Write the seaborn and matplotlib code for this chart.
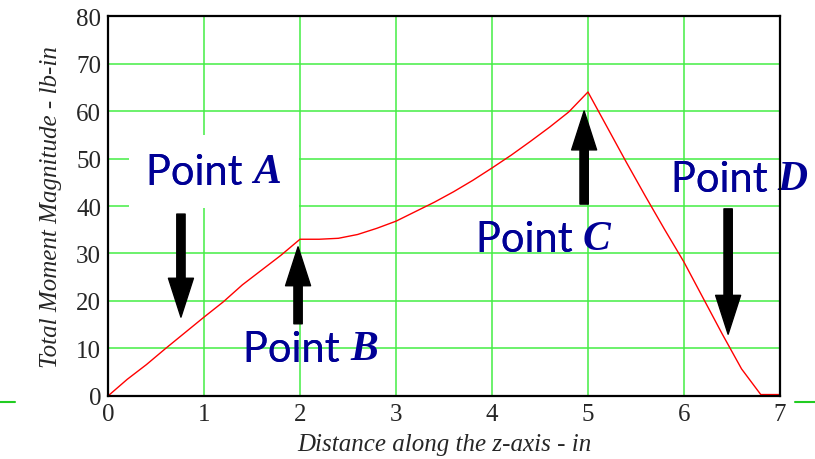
import matplotlib
matplotlib.use("Agg")
import matplotlib.pyplot as plt
from matplotlib.lines import Line2D
import numpy as np
import pandas as pd
import seaborn as sns

# Bending moment along the shaft (lb-in) sampled every 0.2 in
z_in = [0.0, 0.2, 0.4, 0.6, 0.8, 1.0, 1.2, 1.4, 1.6, 1.8, 2.0, 2.2, 2.4, 2.6, 2.8,
        3.0, 3.2, 3.4, 3.6, 3.8, 4.0, 4.2, 4.4, 4.6, 4.8, 5.0, 5.2, 5.4, 5.6, 5.8,
        6.0, 6.2, 6.4, 6.6, 6.8, 7.0]
moment = [0.0, 3.5, 6.6, 10.0, 13.3, 16.6, 19.8, 23.4, 26.5, 29.6, 33.0, 33.0, 33.2,
          34.0, 35.3, 36.8, 38.8, 40.8, 43.0, 45.4, 48.0, 50.7, 53.6, 56.6, 59.8, 64.0,
          56.6, 49.2, 42.0, 35.0, 28.2, 20.6, 13.0, 5.7, 0.3, 0.3]

x_ticks = [0, 1, 2, 3, 4, 5, 6, 7]
y_ticks = [0, 10, 20, 30, 40, 50, 60, 70, 80]

# Callouts: label, text position (x, y), arrow tail, arrow tip, white backing
point_labels = ["A", "B", "C", "D"]
label_pos = [(0.40, 47.2), (1.41, 9.9), (3.83, 33.0), (5.86, 45.7)]
arrow_tail = [(0.76, 38.3), (1.98, 15.2), (4.96, 40.4), (6.46, 39.4)]
arrow_tip = [(0.76, 16.6), (1.98, 31.4), (4.96, 60.0), (6.46, 13.0)]
backed = [True, False, False, False]

df = pd.DataFrame({"z": z_in, "M": moment})

sns.set_style("white")
plt.rcParams["font.family"] = ["Liberation Serif", "DejaVu Serif"]

fig = plt.figure(figsize=(8.15, 4.6), dpi=100)
ax = fig.add_axes([0.1325, 0.137, 0.8245, 0.826])

sns.lineplot(data=df, x="z", y="M", ax=ax, color="red", linewidth=1.0, zorder=2)

ax.set_xlim(0, 7)
ax.set_ylim(0, 80)
ax.set_xticks(x_ticks)
ax.set_yticks(y_ticks)
ax.tick_params(axis="both", length=0, labelsize=18, pad=5)
ax.grid(True, color="#44ee44", linewidth=1.1)
ax.set_axisbelow(True)
for s in ax.spines.values():
    s.set_color("black")
    s.set_linewidth(1.6)
    s.set_zorder(3)

ax.set_xlabel("Distance along the z-axis - in", fontsize=18, style="italic", labelpad=6)
ax.set_ylabel("Total Moment Magnitude - lb-in", fontsize=18, style="italic", labelpad=10)

navy = "#000095"
word_kw = dict(fontsize=30, color=navy, family=["Lato", "DejaVu Sans"],
               ha="left", va="center")
for lab, (tx, ty), tail, tip, bk in zip(point_labels, label_pos, arrow_tail,
                                        arrow_tip, backed):
    box = (dict(boxstyle="square,pad=0.42", facecolor="white", edgecolor="none")
           if bk else None)
    # word (with optional white backing), letter, then the word again on top
    t = ax.text(tx, ty, "Point ", zorder=2.6, bbox=box, **word_kw)
    ax.annotate(lab, xy=(1, 0.5), xycoords=t, xytext=(0, 0), textcoords="offset points",
                fontsize=30, color=navy, fontweight="bold", style="italic",
                family=["Liberation Serif"], ha="left", va="center", zorder=2.6,
                bbox=box)
    ax.text(tx, ty, "Point ", zorder=2.7, **word_kw)
    ax.annotate("", xy=tip, xytext=tail,
                arrowprops=dict(arrowstyle="simple,head_length=1.4,head_width=0.9,tail_width=0.3",
                                mutation_scale=20, color="black", shrinkA=0, shrinkB=0),
                zorder=4)

# short green marks outside the plot frame
fig.add_artist(Line2D([0.0, 0.018], [0.124, 0.124], color="#22cc22", linewidth=1.5))
fig.add_artist(Line2D([0.975, 1.0], [0.124, 0.124], color="#22cc22", linewidth=1.5))

fig.savefig("out.png", dpi=100)
